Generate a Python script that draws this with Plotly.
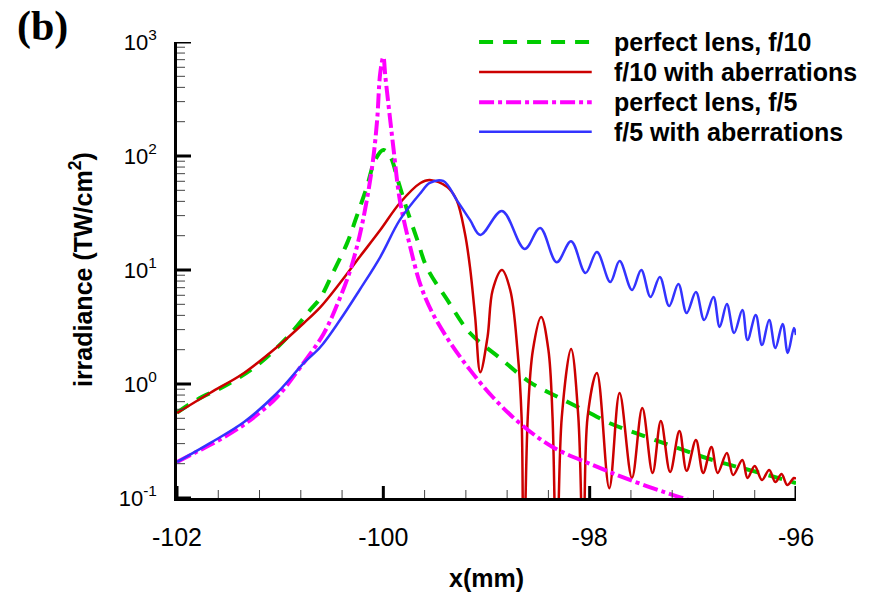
import plotly.graph_objects as go

# ---------------- data ----------------
# perfect lens, f/10
green_x = [-102.0, -101.81, -101.52, -101.22, -100.93, -100.71, -100.61, -100.49, -100.35, -100.26,
           -100.16, -100.08, -100.0, -99.93, -99.86, -99.77, -99.67, -99.58, -99.38, -99.16,
           -98.87, -98.58, -98.29, -98.0, -97.81, -97.42, -97.15, -96.9, -96.64, -96.38, -96.0]
green_y = [0.56, 0.725, 0.98, 1.47, 2.58, 4.45, 5.7, 9.4, 17.3, 29.2,
           53.5, 92, 113, 98, 61.5, 33.6, 18.3, 10.6, 5.46, 2.80,
           1.69, 1.04, 0.754, 0.557, 0.455, 0.336, 0.275, 0.229, 0.195, 0.169, 0.135]

# f/10 with aberrations
red_x = [-102.0, -101.68, -101.35, -101.03, -100.77, -100.61, -100.42, -100.23, -100.03, -99.84,
         -99.64, -99.55, -99.38, -99.29, -99.21, -99.16, -99.11, -99.06, -98.99, -98.94,
         -98.85, -98.77, -98.70, -98.66, -98.64, -98.60, -98.55, -98.47, -98.40, -98.36,
         -98.32, -98.27, -98.18, -98.11, -98.06, -98.02, -97.93, -97.81, -97.71, -97.59,
         -97.49, -97.39, -97.31, -97.22, -97.13, -97.06, -96.97, -96.90, -96.82, -96.76,
         -96.67, -96.61, -96.52, -96.47, -96.40, -96.33, -96.26, -96.20, -96.14, -96.085,
         -96.02, -96.0]
red_y = [0.557, 0.834, 1.25, 2.11, 3.43, 4.73, 7.7, 13.0, 22.4, 38.7,
         58, 61.7, 53.5, 41.1, 21.1, 10.6, 3.87, 1.27, 2.58, 6.68,
         10.0, 6.68, 1.99, 0.514, 0.02, 0.514, 1.99, 3.87, 1.99, 0.514,
         0.02, 0.514, 2.03, 0.514, 0.02, 0.514, 1.25, 0.122, 0.834, 0.150,
         0.615, 0.166, 0.473, 0.169, 0.387, 0.173, 0.323, 0.166, 0.280, 0.166,
         0.248, 0.159, 0.215, 0.150, 0.191, 0.144, 0.176, 0.138, 0.162, 0.130,
         0.150, 0.147]

# perfect lens, f/5
mag_x = [-102.0, -101.81, -101.54, -101.29, -101.03, -100.81, -100.58, -100.45, -100.32, -100.23,
         -100.16, -100.10, -100.06, -100.03, -100.0, -99.98, -99.93, -99.90, -99.84, -99.74,
         -99.64, -99.53, -99.35, -99.16, -98.94, -98.68, -98.36, -97.97, -97.61, -97.19,
         -97.10, -96.9]
mag_y = [0.207, 0.254, 0.343, 0.483, 0.769, 1.38, 2.75, 4.9, 10.0, 20.0,
         41.1, 92, 207, 535, 738, 493, 195, 113, 41, 16,
         7.4, 4.3, 2.29, 1.33, 0.769, 0.455, 0.280, 0.195, 0.144, 0.106,
         0.1, 0.088]

# f/5 with aberrations
blue_x = [-102.0, -101.68, -101.35, -101.03, -100.77, -100.61, -100.42, -100.23, -100.03, -99.84,
          -99.64, -99.55, -99.42, -99.28, -99.16, -99.06, -98.85, -98.63, -98.48, -98.32,
          -98.18, -98.04, -97.93, -97.80, -97.71, -97.59, -97.50, -97.41, -97.32, -97.23,
          -97.14, -97.06, -96.97, -96.89, -96.80, -96.74, -96.67, -96.60, -96.52, -96.47,
          -96.39, -96.33, -96.26, -96.20, -96.13, -96.08, -96.02, -96.0]
blue_y = [0.207, 0.303, 0.464, 0.834, 1.53, 2.11, 3.64, 6.68, 13.0, 27.5,
          47.3, 58, 60.4, 40, 27.5, 20.3, 33.0, 15.3, 23.4, 11.7,
          17.9, 9.4, 14.4, 7.85, 12.0, 6.68, 10.0, 5.80, 8.7, 4.83,
          7.54, 4.20, 6.41, 3.64, 5.80, 3.16, 5.03, 2.80, 4.46, 2.43,
          4.03, 2.20, 3.64, 2.07, 3.36, 1.87, 3.10, 2.69]

series_names = ["perfect lens, f/10", "f/10 with aberrations", "perfect lens, f/5", "f/5 with aberrations"]

x_tickvals = [-102, -100, -98, -96]
x_ticktext = ["-102", "-100", "-98", "-96"]
x_minor_vals = [-101.6, -101.2, -100.8, -100.4, -99.6, -99.2, -98.8, -98.4, -97.6, -97.2, -96.8, -96.4]
y_tickvals = [0.1, 1, 10, 100, 1000]
y_ticktext = ["10<sup>-1</sup>", "10<sup>0</sup>", "10<sup>1</sup>", "10<sup>2</sup>", "10<sup>3</sup>"]
y_minor_vals = [k * d for d in (0.1, 1, 10, 100) for k in range(2, 10)]

# ---------------- styles ----------------
GREEN = "#00cc00"
RED = "#cc0000"
MAG = "#ff00ff"
BLUE = "#3333ff"
green_dash = "14px,10px"
mag_dash = "15px,4px,4px,4px"
CLEAR = "rgba(0,0,0,0)"
PLOT_W, PLOT_H = 619, 456          # plot-area size in px (872-177-76, 596-42-98)

fig = go.Figure()
fig.add_trace(go.Scatter(x=green_x, y=green_y, mode="lines", name=series_names[0],
                         line=dict(color=GREEN, width=4, dash=green_dash, shape="spline")))
fig.add_trace(go.Scatter(x=red_x, y=red_y, mode="lines", name=series_names[1],
                         line=dict(color=RED, width=2.5, shape="spline")))
fig.add_trace(go.Scatter(x=mag_x, y=mag_y, mode="lines", name=series_names[2],
                         line=dict(color=MAG, width=4, dash=mag_dash, shape="spline")))
fig.add_trace(go.Scatter(x=blue_x, y=blue_y, mode="lines", name=series_names[3],
                         line=dict(color=BLUE, width=2.5, shape="spline")))

FONT = "Liberation Sans, Arial, sans-serif"

fig.update_layout(
    width=872, height=596,
    margin=dict(l=177, r=76, t=42, b=98),
    plot_bgcolor="white", paper_bgcolor="white",
    showlegend=False,
    font=dict(family=FONT, color="black"),
    # transparent outside ticks only set the label distance; visible inward ticks are drawn below
    xaxis=dict(
        range=[-102, -96], tickmode="array", tickvals=x_tickvals, ticktext=x_ticktext,
        ticks="outside", ticklen=15, tickwidth=1, tickcolor=CLEAR,
        showline=True, linewidth=2.5, linecolor="black",
        showgrid=False, zeroline=False,
        tickfont=dict(size=25, family=FONT, color="black"),
    ),
    yaxis=dict(
        type="log", range=[-1, 3], tickmode="array", tickvals=y_tickvals, ticktext=y_ticktext,
        ticks="outside", ticklen=13, tickwidth=1, tickcolor=CLEAR,
        showline=True, linewidth=2.5, linecolor="black",
        showgrid=False, zeroline=False,
        tickfont=dict(size=22, family=FONT, color="black"),
    ),
)

# inward tick marks on both axes
for v in x_tickvals:
    fig.add_shape(type="line", xref="x", yref="paper", x0=v, x1=v, y0=0, y1=12 / PLOT_H,
                  line=dict(color="black", width=3))
for v in x_minor_vals:
    fig.add_shape(type="line", xref="x", yref="paper", x0=v, x1=v, y0=0, y1=8 / PLOT_H,
                  line=dict(color="#444444", width=1))
for v in y_tickvals:
    fig.add_shape(type="line", xref="paper", yref="y", x0=0, x1=14 / PLOT_W, y0=v, y1=v,
                  line=dict(color="black", width=3))
for v in y_minor_vals:
    fig.add_shape(type="line", xref="paper", yref="y", x0=0, x1=8 / PLOT_W, y0=v, y1=v,
                  line=dict(color="#444444", width=1))

# axis titles and panel label
fig.add_annotation(text="<b>x(mm)</b>", xref="paper", yref="paper", x=0.5, y=-0.175,
                   xanchor="center", yanchor="middle", showarrow=False,
                   font=dict(size=25, family=FONT, color="black"))
fig.add_annotation(text="<b>irradiance (TW/cm<sup>2</sup>)</b>", xref="paper", yref="paper",
                   x=-0.155, y=0.5, textangle=-90, xanchor="center", yanchor="middle",
                   showarrow=False, font=dict(size=25, family=FONT, color="black"))
fig.add_annotation(text="<b>(b)</b>", xref="paper", yref="paper", x=-0.218, y=1.035,
                   xanchor="center", yanchor="middle", showarrow=False,
                   font=dict(size=42, family="Liberation Serif, Times New Roman, serif", color="black"))

# legend drawn manually (long line samples as in the reference)
leg_rows = [1.0, 0.934, 0.868, 0.803]
leg_styles = [(GREEN, 4, green_dash), (RED, 2.5, "solid"), (MAG, 4, mag_dash), (BLUE, 2.5, "solid")]
for name, yy, (col, w, dsh) in zip(series_names, leg_rows, leg_styles):
    fig.add_shape(type="line", xref="paper", yref="paper", x0=0.488, x1=0.670, y0=yy, y1=yy,
                  line=dict(color=col, width=w, dash=dsh))
    fig.add_annotation(text="<b>" + name + "</b>", xref="paper", yref="paper", x=0.703, y=yy,
                       xanchor="left", yanchor="middle", showarrow=False,
                       font=dict(size=25, family=FONT, color="black"))

fig.write_html("out.html")
